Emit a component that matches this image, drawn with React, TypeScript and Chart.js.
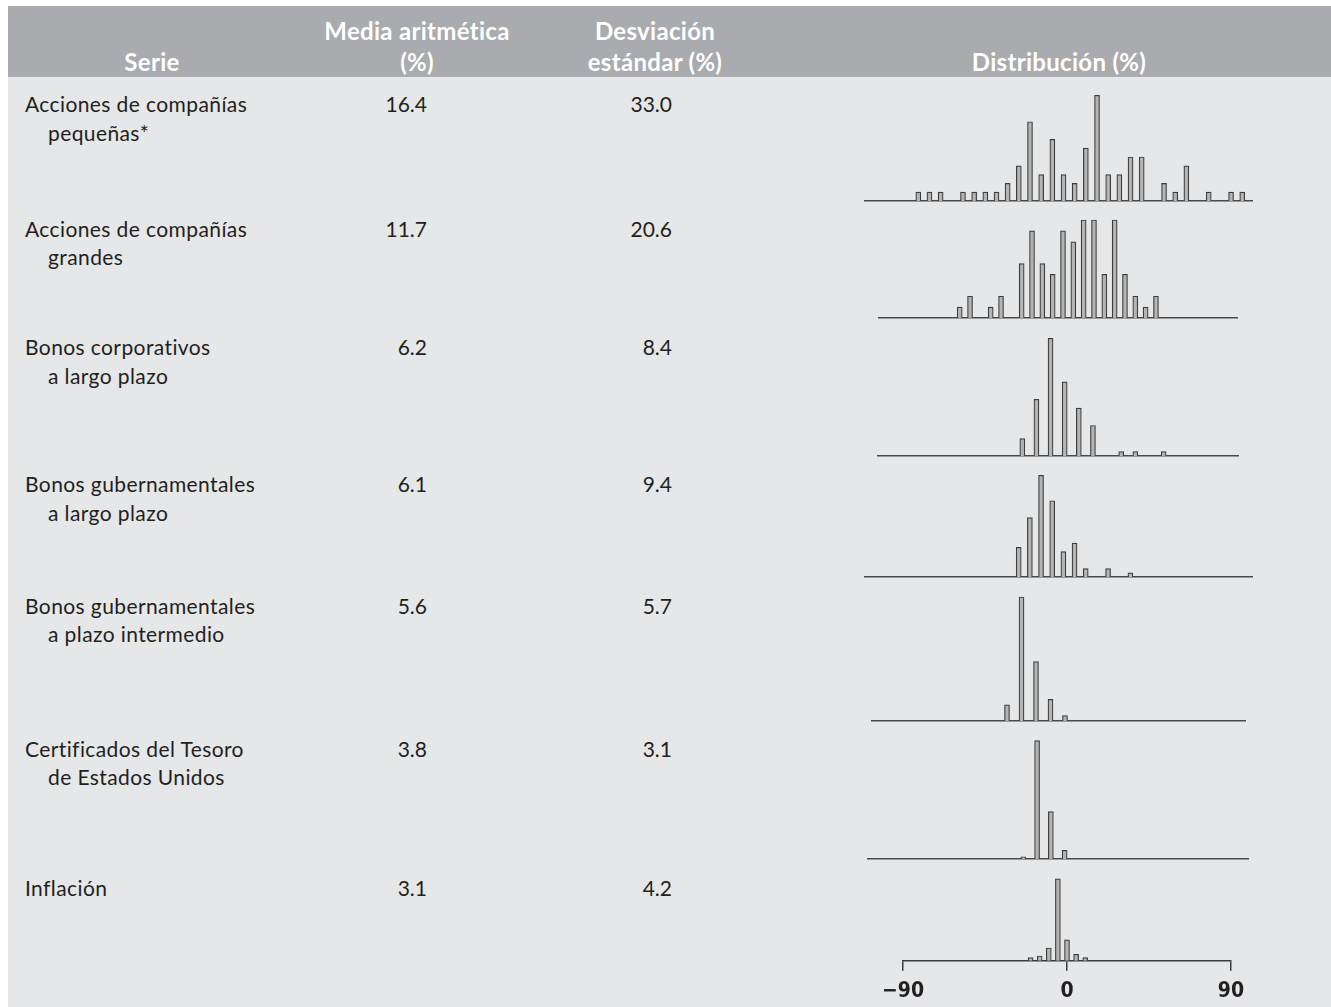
import React, { useEffect, useRef } from "react";
import { Chart, registerables } from "chart.js";

Chart.register(...registerables);

// ---------- data ----------
const seriesLines: string[][] = [
  ["Acciones de compañías", "pequeñas*"],
  ["Acciones de compañías", "grandes"],
  ["Bonos corporativos", "a largo plazo"],
  ["Bonos gubernamentales", "a largo plazo"],
  ["Bonos gubernamentales", "a plazo intermedio"],
  ["Certificados del Tesoro", "de Estados Unidos"],
  ["Inflación"],
];
const meanValues = ["16.4", "11.7", "6.2", "6.1", "5.6", "3.8", "3.1"];
const stdDevValues = ["33.0", "20.6", "8.4", "9.4", "5.7", "3.1", "4.2"];

// Histogram counts (number of years per 5% bin), consecutive bins
const smallStockCounts = [1, 1, 1, 0, 1, 1, 1, 1, 2, 4, 9, 3, 7, 3, 2, 6, 12, 3, 3, 5, 5, 0, 2, 1, 4, 0, 1, 0, 1, 1];
const largeStockCounts = [1, 2, 0, 1, 2, 0, 5, 8, 5, 4, 8, 7, 9, 9, 4, 9, 4, 2, 1, 2];
const corpBondCounts = [4, 13, 27, 17, 11, 7, 0, 1, 1, 0, 1];
const longGovCounts = [7, 14, 24, 18, 6, 8, 2, 0, 2, 0, 1];
const interGovCounts = [6, 46, 22, 8, 2];
const tbillCounts = [1, 55, 22, 4];
const inflationCounts = [2, 3, 8, 51, 13, 4, 2];

// first bin centre (%) of each histogram
const binStarts = [-65, -50, -15, -20, -20, -15, -20];
const BIN_WIDTH = 5;
const axisTickValues = [-90, 0, 90];

const allCounts = [smallStockCounts, largeStockCounts, corpBondCounts, longGovCounts, interGovCounts, tbillCounts, inflationCounts];

// ---------- layout (pixels) ----------
const PAGE_W = 1331;
const PAGE_H = 1007;
const PAD = 30;
const AREA_H = 130;
const TICK_LEN = 10;
const TICK_PAD = 8;
const TICK_FONT = 21;
// L/R: baseline extent, p0: first bar centre, s: bar spacing, base: baseline y, peak: tallest bar px
const histLayout = [
  { L: 865, R: 1252, p0: 918.3, s: 11.17, base: 200.7, peak: 105.7 },
  { L: 879, R: 1237, p0: 959.7, s: 10.33, base: 318.3, peak: 98 },
  { L: 878, R: 1238, p0: 1022.3, s: 14.13, base: 455.7, peak: 117.7 },
  { L: 865, R: 1252, p0: 1018.7, s: 11.17, base: 577, peak: 101.7 },
  { L: 872, R: 1245, p0: 1007, s: 14.5, base: 720.7, peak: 124 },
  { L: 868, R: 1248, p0: 1023.3, s: 13.78, base: 858.7, peak: 118.3 },
  { L: 903, R: 1231, p0: 0, s: 0, base: 961.3, peak: 82 },
];
const textBaselines = [111.7, 236.5, 354.7, 492, 613.5, 756.5, 895.5];
const LINE_GAP = 28.7;

const BODY_FONT = "Lato, 'Open Sans', sans-serif";
const TEXT_COLOR = "#231f20";

function Histogram({ index }: { index: number }) {
  const ref = useRef<HTMLCanvasElement>(null);
  const lay = histLayout[index];
  const counts = allCounts[index];
  const isAxis = index === 6;
  const axisH = isAxis ? TICK_LEN + TICK_FONT * 1.2 + 2 * TICK_PAD : 0;
  const padBottom = isAxis ? 0 : 4;
  const width = lay.R - lay.L + 2 * PAD;
  const height = Math.round(AREA_H + axisH + padBottom);

  useEffect(() => {
    if (!ref.current) return;
    const b0 = binStarts[index];
    let min: number, max: number;
    if (isAxis) {
      min = axisTickValues[0];
      max = axisTickValues[axisTickValues.length - 1];
    } else {
      const pxPerPct = lay.s / BIN_WIDTH;
      min = b0 - (lay.p0 - lay.L) / pxPerPct;
      max = b0 + (lay.R - lay.p0) / pxPerPct;
    }
    const maxCount = Math.max(...counts);
    const yMax = (maxCount * AREA_H) / lay.peak;
    const pts = counts
      .map((c, i) => ({ x: b0 + i * BIN_WIDTH, y: c }))
      .filter((p) => p.y > 0);
    const lineColor = "#3a3a3a";
    const chart = new Chart(ref.current, {
      type: "bar",
      data: {
        datasets: [
          {
            data: pts as any,
            barThickness: 5,
            borderWidth: 1.2,
            borderColor: "#3c3c3c",
            backgroundColor: "#b4b4b4",
            borderSkipped: "start",
          },
        ],
      },
      options: {
        animation: false,
        responsive: false,
        events: [],
        layout: { padding: { left: PAD, right: PAD, top: 0, bottom: padBottom } },
        plugins: { legend: { display: false }, tooltip: { enabled: false } },
        scales: {
          x: {
            type: "linear",
            min,
            max,
            offset: false,
            grid: isAxis
              ? { display: true, drawOnChartArea: false, drawTicks: true, tickLength: TICK_LEN, color: lineColor, lineWidth: 1.5, offset: false }
              : { display: false, drawTicks: false, offset: false },
            border: { display: true, color: isAxis ? lineColor : "#4a4a4a", width: 1.5 },
            afterBuildTicks: isAxis
              ? (axis: any) => {
                  axis.ticks = axisTickValues.map((v) => ({ value: v }));
                }
              : undefined,
            ticks: isAxis
              ? {
                  display: true,
                  autoSkip: false,
                  maxRotation: 0,
                  padding: TICK_PAD,
                  color: TEXT_COLOR,
                  font: { family: "'Liberation Sans Narrow', 'DejaVu Sans Condensed', sans-serif", size: TICK_FONT, weight: "bold" },
                  callback: (v: any) => (Number(v) < 0 ? "\u2212" + Math.abs(Number(v)) : String(v)),
                }
              : { display: false },
          },
          y: { display: false, min: 0, max: yMax },
        },
      } as any,
    });
    return () => chart.destroy();
  }, []);

  return (
    <canvas
      ref={ref}
      width={width}
      height={height}
      style={{ position: "absolute", left: lay.L - PAD, top: lay.base - AREA_H, width, height }}
    />
  );
}

function Txt(props: { x: number; baseline: number; size: number; text: string; align?: "left" | "right" | "center"; bold?: boolean; color?: string; spacing?: number }) {
  const { x, baseline, size, text, align = "left", bold, color = TEXT_COLOR, spacing = 0 } = props;
  const top = baseline - 0.987 * size;
  const W = 400;
  const left = align === "left" ? x : align === "right" ? x - W : x - W / 2;
  return (
    <div
      style={{
        position: "absolute",
        left,
        top,
        width: align === "left" ? undefined : W,
        whiteSpace: "nowrap",
        textAlign: align,
        fontFamily: BODY_FONT,
        fontSize: size,
        lineHeight: 1.2,
        letterSpacing: spacing,
        fontWeight: bold ? 700 : 400,
        color,
      }}
    >
      {text}
    </div>
  );
}

export default function App() {
  const HB1 = 41;
  const HB2 = 71.5;
  const HS = 24;
  const HSP = 0.3;
  const BS = 21;
  const BSP = 0.4;
  return (
    <div style={{ position: "fixed", left: 0, top: 0, width: PAGE_W, height: PAGE_H, background: "#ffffff", overflow: "hidden" }}>
      <div style={{ position: "absolute", left: 8, top: 6, right: 0, bottom: 0, background: "#e6e7e8" }} />
      <div style={{ position: "absolute", left: 8, top: 6, right: 0, height: 71, background: "#a9abae" }} />
      <Txt x={152} baseline={HB2} size={HS} spacing={HSP} text="Serie" align="center" bold color="#ffffff" />
      <Txt x={417} baseline={HB1} size={HS} spacing={HSP} text="Media aritmética" align="center" bold color="#ffffff" />
      <Txt x={417} baseline={HB2} size={HS} spacing={HSP} text="(%)" align="center" bold color="#ffffff" />
      <Txt x={655} baseline={HB1} size={HS} spacing={HSP} text="Desviación" align="center" bold color="#ffffff" />
      <Txt x={655} baseline={HB2} size={HS} spacing={HSP} text="estándar (%)" align="center" bold color="#ffffff" />
      <Txt x={1059} baseline={HB2} size={HS} spacing={HSP} text="Distribución (%)" align="center" bold color="#ffffff" />
      {seriesLines.map((lines, i) => (
        <React.Fragment key={i}>
          <Txt x={25} baseline={textBaselines[i]} size={BS} spacing={BSP} text={lines[0]} />
          {lines[1] ? <Txt x={48} baseline={textBaselines[i] + LINE_GAP} size={BS} spacing={BSP} text={lines[1]} /> : null}
          <Txt x={427} baseline={textBaselines[i]} size={BS} text={meanValues[i]} align="right" />
          <Txt x={672} baseline={textBaselines[i]} size={BS} text={stdDevValues[i]} align="right" />
        </React.Fragment>
      ))}
      {allCounts.map((_, i) => (
        <Histogram key={i} index={i} />
      ))}
    </div>
  );
}
